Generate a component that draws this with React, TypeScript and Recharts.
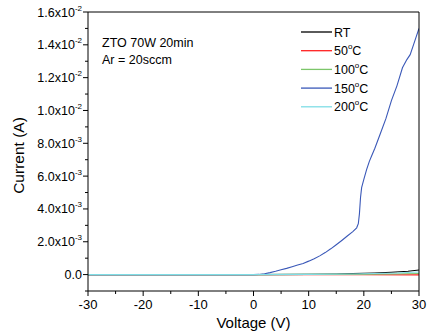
import React from 'react';
import { LineChart, Line, XAxis, YAxis, Customized } from 'recharts';

// ---- data ----
const vRT = [-30, -20, -10, 0, 10, 15, 18, 20, 22, 25, 28, 30];
const iRT = [0, 0, 0, 0, 0.00001, 0.00003, 0.00006, 0.00008, 0.0001, 0.00014, 0.0002, 0.00028];

const v50 = [-30, -10, 0, 10, 20, 30];
const i50 = [0, 0, 0, 0, -0.00001, -0.00002];

const v100 = [-30, -10, 0, 10, 20, 25, 30];
const i100 = [0, 0, 0, 0.00001, 0.00002, 0.00004, 0.00007];

const v150 = [-30, -20, -10, 0, 1, 2, 3, 4, 5, 6, 7, 8, 9, 10, 11, 12, 13, 14, 15, 16, 17, 18, 18.7, 19.0, 19.2, 19.4, 19.6, 20.0, 20.5, 21, 21.5, 22, 23, 24, 25, 26, 27, 27.8, 28.4, 29, 29.5, 30];
const i150 = [0, 0, 0, 0, 0.00001, 0.00005, 0.00012, 0.0002, 0.00029, 0.00038, 0.00048, 0.00058, 0.00068, 0.00082, 0.00097, 0.00114, 0.00134, 0.00157, 0.00182, 0.00208, 0.00235, 0.00262, 0.00285, 0.0031, 0.0037, 0.0047, 0.0053, 0.0058, 0.0064, 0.0069, 0.0073, 0.0077, 0.0086, 0.0095, 0.0106, 0.0115, 0.0126, 0.0131, 0.0134, 0.014, 0.0145, 0.015];

const v200 = [-30, -10, 0, 10, 18, 22, 26, 30];
const i200 = [0, 0, 0, 0.00001, 0.00004, 0.00007, 0.0001, 0.00016];

const xMajor = [-30, -20, -10, 0, 10, 20, 30];
const xAll = [-30, -25, -20, -15, -10, -5, 0, 5, 10, 15, 20, 25, 30];
const yMajor = [0, 0.002, 0.004, 0.006, 0.008, 0.01, 0.012, 0.014, 0.016];
const yAll = [-0.001, 0, 0.001, 0.002, 0.003, 0.004, 0.005, 0.006, 0.007, 0.008, 0.009, 0.01, 0.011, 0.012, 0.013, 0.014, 0.015, 0.016];

const seriesNames = ['RT', '50', '100', '150', '200'];
const seriesColors = ['#000000', '#ff2020', '#7cc66a', '#3a58b8', '#7fdde6'];

const zip = (xs: number[], ys: number[]) => xs.map((x, k) => ({ v: x, i: ys[k] }));
const seriesData = [zip(vRT, iRT), zip(v50, i50), zip(v100, i100), zip(v150, i150), zip(v200, i200)];

const FONT = '"Liberation Sans", Arial, sans-serif';

const isMajorY = (v: number) => yMajor.some((m) => Math.abs(m - v) < 1e-9);
const isMajorX = (v: number) => xMajor.includes(v);

const fmtY = (v: number) => {
  if (Math.abs(v) < 1e-12) return { m: '0.0', e: '' };
  const e = Math.floor(Math.log10(v) + 1e-9);
  const m = (v / Math.pow(10, e)).toFixed(1);
  return { m: `${m}x10`, e: `${e}` };
};

const LeftTick = (props: any) => {
  const { x, y, payload } = props;
  const major = isMajorY(payload.value);
  const len = major ? 5 : 3;
  const f = fmtY(payload.value);
  return (
    <g>
      <line x1={x - len} x2={x} y1={y} y2={y} stroke="#000" strokeWidth={1} />
      {major && (
        <text x={x - 6} y={y + 4.5} textAnchor="end" fontFamily={FONT} fontSize={12.5} fill="#000">
          <tspan>{f.m}</tspan>
          {f.e && (
            <tspan dy={-6} fontSize={8}>
              {f.e}
            </tspan>
          )}
        </text>
      )}
    </g>
  );
};

const RightTick = (props: any) => {
  const { x, y, payload } = props;
  const len = isMajorY(payload.value) ? 5 : 3;
  return <line x1={x - len} x2={x} y1={y} y2={y} stroke="#000" strokeWidth={1} />;
};

const BottomTick = (props: any) => {
  const { x, y, payload } = props;
  const major = isMajorX(payload.value);
  const len = major ? 5 : 3;
  return (
    <g>
      <line x1={x} x2={x} y1={y} y2={y + len} stroke="#000" strokeWidth={1} />
      {major && (
        <text x={x} y={y + 18} textAnchor="middle" fontFamily={FONT} fontSize={13} fill="#000">
          {payload.value}
        </text>
      )}
    </g>
  );
};

const TopTick = (props: any) => {
  const { x, y, payload } = props;
  const len = isMajorX(payload.value) ? 5 : 3;
  return <line x1={x} x2={x} y1={y} y2={y + len} stroke="#000" strokeWidth={1} />;
};

const Annotations = (props: any) => {
  const off = props.offset || { left: 88, top: 12, width: 331, height: 279 };
  const left = off.left;
  const top = off.top;
  const bottom = off.top + off.height;
  const cx = off.left + off.width / 2;
  const lgX = left + 213;
  const lgY = top + 20;
  return (
    <g fontFamily={FONT} fill="#000">
      <text x={left + 14} y={top + 35} fontSize={12.5}>ZTO 70W 20min</text>
      <text x={left + 14} y={top + 52} fontSize={12.5}>Ar = 20sccm</text>
      <text x={cx} y={bottom + 37} fontSize={15} textAnchor="middle">Voltage (V)</text>
      <text
        x={0}
        y={0}
        fontSize={15.5}
        textAnchor="middle"
        transform={`translate(${left - 64}, ${top + off.height / 2 + 4}) rotate(-90)`}
      >
        Current (A)
      </text>
      {seriesNames.map((n, k) => {
        const yy = lgY + k * 18.7;
        return (
          <g key={n}>
            <line x1={lgX} x2={lgX + 31} y1={yy} y2={yy} stroke={seriesColors[k]} strokeWidth={1.3} />
            <text x={lgX + 33} y={yy + 4.5} fontSize={12.5}>
              {n === 'RT' ? (
                'RT'
              ) : (
                <>
                  <tspan>{n}</tspan>
                  <tspan dy={-6} fontSize={8}>o</tspan>
                  <tspan dy={6}>C</tspan>
                </>
              )}
            </text>
          </g>
        );
      })}
    </g>
  );
};

export default function App() {
  return (
    <div style={{ position: 'absolute', left: 0, top: 0, width: 429, height: 335, background: '#fff' }}>
      <LineChart width={429} height={335} margin={{ top: 12, right: 10, bottom: 14, left: 8 }}>
        <XAxis
          dataKey="v"
          type="number"
          domain={[-30, 30]}
          ticks={xAll}
          interval={0}
          allowDataOverflow
          height={30}
          tickSize={0}
          tickMargin={0}
          tickLine={false}
          axisLine={{ stroke: '#000', strokeWidth: 1 }}
          tick={<BottomTick />}
        />
        <XAxis
          xAxisId="top"
          orientation="top"
          mirror
          dataKey="v"
          type="number"
          domain={[-30, 30]}
          ticks={xAll}
          interval={0}
          tickSize={0}
          tickMargin={0}
          tickLine={false}
          axisLine={{ stroke: '#000', strokeWidth: 1 }}
          tick={<TopTick />}
        />
        <YAxis
          type="number"
          domain={[-0.001, 0.016]}
          ticks={yAll}
          interval={0}
          allowDataOverflow
          width={80}
          tickSize={0}
          tickMargin={0}
          tickLine={false}
          axisLine={{ stroke: '#000', strokeWidth: 1 }}
          tick={<LeftTick />}
        />
        <YAxis
          yAxisId="right"
          orientation="right"
          mirror
          type="number"
          domain={[-0.001, 0.016]}
          ticks={yAll}
          interval={0}
          tickSize={0}
          tickMargin={0}
          tickLine={false}
          axisLine={{ stroke: '#000', strokeWidth: 1 }}
          tick={<RightTick />}
        />
        {seriesData.map((d, k) => (
          <Line
            key={seriesNames[k]}
            data={d}
            dataKey="i"
            name={seriesNames[k]}
            type="linear"
            stroke={seriesColors[k]}
            strokeWidth={1.1}
            dot={false}
            isAnimationActive={false}
          />
        ))}
        <Customized component={Annotations} />
      </LineChart>
    </div>
  );
}
